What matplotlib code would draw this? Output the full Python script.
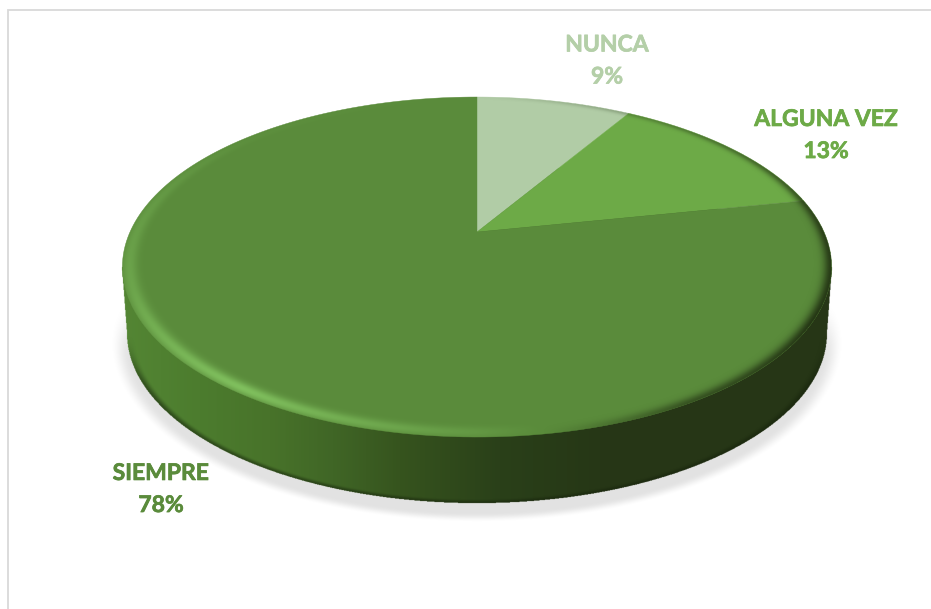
"""Pie chart with fake 3D disk: top face is a projected circle, side and bevel are shaded images."""
import numpy as np
import matplotlib
matplotlib.use("Agg")
import matplotlib.pyplot as plt
import matplotlib.patheffects as pe

categories = ["NUNCA", "ALGUNA VEZ", "SIEMPRE"]
shares = [8.6, 13.2, 78.2]
slice_colors = ["#B1CCA6", "#6DAA47", "#5A8B3B"]
label_colors = ["#B4CFA8", "#6DAA47", "#5A8B3B"]
label_centers = [(607, 61), (826, 135.5), (161, 489.5)]

W, H = 931, 609
CX, CY = 477, 232      # apex of the slices
TILT = 0.206           # perspective of the top face
AX, BY = 347, 162.8
ELL_CY, ELL_RX, ELL_RY = 267, 355, 170
BOT_CY, BOT_RX, BOT_RY = 333, 350, 170


def project(x, y):
    w = 1 + TILT * y
    return CX + AX * x / w, CY - BY * y / w


def slice_outline(start, end):
    t = np.radians(np.linspace(start, end, 200))
    px, py = project(np.sin(t), np.cos(t))
    return np.r_[CX, px, CX], np.r_[CY, py, CY]


def smooth(v, lo, hi):
    s = np.clip((v - lo) / (hi - lo), 0, 1)
    return s * s * (3 - 2 * s)


fig = plt.figure(figsize=(W / 100, H / 100), dpi=100)
ax = fig.add_axes([0, 0, 1, 1])
ax.set_xlim(0, W)
ax.set_ylim(H, 0)
ax.axis("off")

ss = 2
gx, gy = np.meshgrid((np.arange(W * ss) + 0.5) / ss, (np.arange(H * ss) + 0.5) / ss)
extent = (0, W, H, 0)


def put_image(rgb, alpha, z):
    img = np.zeros(gx.shape + (4,))
    img[..., :3] = np.asarray(rgb) / 255
    img[..., 3] = alpha
    ax.imshow(img, extent=extent, zorder=z, interpolation="antialiased", aspect="auto")


# soft ground shadow
rho = np.hypot((gx - CX) / 360, (gy - 342) / 177)
shadow = (1 - smooth(rho, 0.965, 1.02)) * smooth(gy, 290, 360) * 0.115
put_image((0, 0, 0), shadow, 1)

# side wall, horizontal gradient; half width follows the bottom ellipse below its centre
bot = np.hypot((gx - CX) / BOT_RX, (gy - BOT_CY) / BOT_RY)
half = np.interp(gy, [ELL_CY, BOT_CY], [ELL_RX, BOT_RX])
wall = (bot < 1) | ((np.abs(gx - CX) < half) & (gy > ELL_CY) & (gy < BOT_CY))
stops = [122, 200, 270, 333, 400, 500, 600, 832]
side_r = np.interp(gx, stops, [84, 76, 72, 64, 54, 42, 38, 38])
side_g = np.interp(gx, stops, [134, 124, 115, 102, 84, 64, 55, 54])
side_b = np.interp(gx, stops, [52, 46, 42, 38, 30, 25, 22, 22])
put_image(np.dstack([side_r, side_g, side_b]), wall.astype(float), 2)
# darker lower edge of the wall
put_image((20, 32, 10), wall * smooth(bot, 0.975, 1.0) * smooth(gy, BOT_CY, BOT_CY + 60) * 0.55, 2.5)

# top face slices, clockwise from twelve o'clock
start = 0.0
for share, col in zip(shares, slice_colors):
    end = start + share * 3.6
    px, py = slice_outline(start, end)
    ax.fill(px, py, color=col, lw=0.3, zorder=3)
    start = end

# bevel along the rim of the top face
fy = (CY - gy) / (BY - TILT * (CY - gy))
fx = (gx - CX) * (1 + TILT * fy) / AX
r = np.hypot(fx, fy)
ang = np.degrees(np.arctan2(fx, fy)) % 360
inside = r <= 1
u = (1 - r) / 0.05
light = np.interp(ang, [0, 60, 90, 120, 150, 180, 215, 250, 280, 310, 360],
                  [0, -0.5, -0.8, -0.9, -0.6, 0.25, 1.0, 0.5, 0.3, 0.08, 0])
prof_l = np.exp(-((u - 0.4) / 0.42) ** 2)
prof_d = np.exp(-(u / 0.42) ** 2)
put_image((128, 192, 94), inside * np.clip(light, 0, 1) * prof_l, 4)
put_image((30, 45, 16), inside * np.clip(-light, 0, 1) * prof_d, 4)

# frame of the chart area
ax.plot([8, 8, W], [H, 10, 10], color="#D9D9D9", lw=1.3, zorder=0, solid_joinstyle="miter")

for name, share, col, (lx, ly) in zip(categories, shares, label_colors, label_centers):
    ax.text(lx, ly, f"{name}\n{share:.0f}%", color=col, ha="center", va="center",
            family="Lato", weight="bold", fontsize=16.5, linespacing=1.65, zorder=5,
            path_effects=[pe.withStroke(linewidth=0.5, foreground=col)])

ax.set_xlim(0, W)
ax.set_ylim(H, 0)
fig.savefig("out.png", dpi=100)
